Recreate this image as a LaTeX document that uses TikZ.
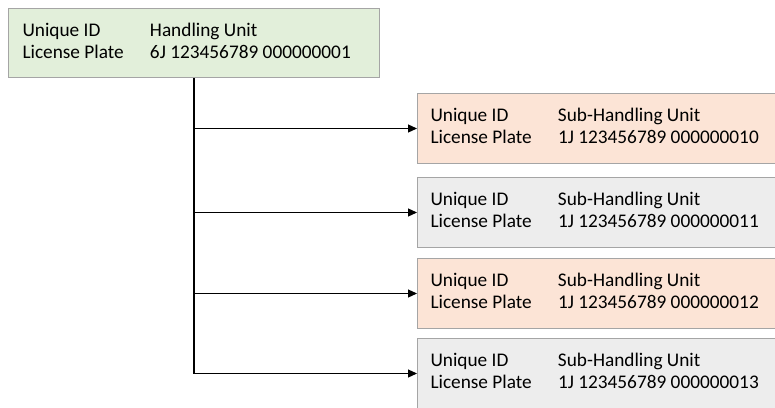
\documentclass[tikz,border=0pt]{standalone}
\usepackage{fontspec}
\setmainfont{Carlito}
\usepackage{array}
\usetikzlibrary{arrows.meta}

\definecolor{hugreen}{HTML}{E2EFDA}
\definecolor{shuorange}{HTML}{FCE4D6}
\definecolor{shugray}{HTML}{EDEDED}
\definecolor{boxline}{HTML}{A5A5A5}

% two rows: unique id / license plate
\newcommand{\unitrows}[3]{%
  \begin{tabular}{@{}p{127.5pt}@{}p{#3}@{}}
    Unique ID & #1\\
    License Plate & #2
  \end{tabular}}

\begin{document}
\begin{tikzpicture}[%
      x=1pt, y=-1pt,
      unitbox/.style={draw=boxline, line width=1pt, anchor=north west,
        inner ysep=0pt, minimum height=70pt,
        font=\fontsize{19.3}{22}\selectfont},
      connect/.style={line width=1.2pt, -{Triangle[length=9pt,width=8pt]}},
      ]
      \useasboundingbox (0,0) rectangle (775,407);

      % handling unit
      \node [unitbox, fill=hugreen, inner xsep=14pt, minimum height=69pt] (hu) at (8,8)
        {\unitrows{Handling Unit}{6J 123456789 000000001}{215.5pt}};

      % sub-handling units
      \node [unitbox, fill=shuorange, inner xsep=13pt] (shu1) at (417,93)
        {\unitrows{Sub-Handling Unit}{1J 123456789 000000010}{226.5pt}};
      \node [unitbox, fill=shugray, inner xsep=13pt] (shu2) at (417,177)
        {\unitrows{Sub-Handling Unit}{1J 123456789 000000011}{226.5pt}};
      \node [unitbox, fill=shuorange, inner xsep=13pt] (shu3) at (417,258)
        {\unitrows{Sub-Handling Unit}{1J 123456789 000000012}{226.5pt}};
      \node [unitbox, fill=shugray, inner xsep=13pt] (shu4) at (417,338)
        {\unitrows{Sub-Handling Unit}{1J 123456789 000000013}{226.5pt}};

      \draw [connect] (hu.south) |- (shu1.west);
      \draw [connect] (hu.south) |- (shu2.west);
      \draw [connect] (hu.south) |- (shu3.west);
      \draw [connect] (hu.south) |- (shu4.west);
\end{tikzpicture}
\end{document}
